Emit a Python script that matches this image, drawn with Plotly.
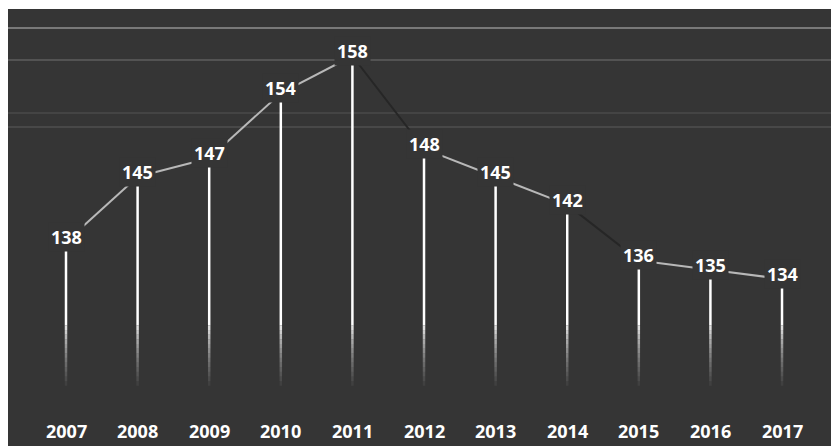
import plotly.graph_objects as go

# Yearly values, grouped into three periods
years = [2007, 2008, 2009, 2010, 2011, 2012, 2013, 2014, 2015, 2016, 2017]
values = [138, 145, 147, 154, 158, 148, 145, 142, 136, 135, 134]
periods = [1, 1, 1, 1, 1, 2, 2, 2, 3, 3, 3]
year_labels = [str(y) for y in years]

BG = "#353535"
FONT = "Open Sans"
W, H = 831, 446
M_L, M_T = 8, 9

# Drop lines run solid down to the first fade level, then fade out in steps
FADE_LEVELS = [129.0, 128.5, 128.0, 127.5, 127.0, 126.5, 126.0, 125.5,
               125.0, 124.5, 124.0, 123.5, 123.0, 122.5]
FADE_ALPHA = [0.85, 0.75, 0.65, 0.57, 0.5, 0.43, 0.37, 0.31,
              0.26, 0.21, 0.16, 0.11, 0.06]

fig = go.Figure()


def vertical_segments(tops, bottom):
    xs, ys = [], []
    for x, t in zip(years, tops):
        xs += [x, x, None]
        ys += [t, bottom, None]
    return xs, ys


xs, ys = vertical_segments(values, FADE_LEVELS[0])
fig.add_trace(go.Scatter(x=xs, y=ys, mode="lines",
                         line=dict(color="white", width=2.5),
                         hoverinfo="skip"))
for (hi, lo), a in zip(zip(FADE_LEVELS[:-1], FADE_LEVELS[1:]), FADE_ALPHA):
    xs, ys = vertical_segments([hi] * len(years), lo)
    fig.add_trace(go.Scatter(x=xs, y=ys, mode="lines",
                             line=dict(color=f"rgba(255,255,255,{a})", width=2.5),
                             hoverinfo="skip"))

# Connecting line: light within a period, dark across period breaks
inner_x, inner_y, cross_x, cross_y = [], [], [], []
for i in range(len(years) - 1):
    seg_x = [years[i], years[i + 1], None]
    seg_y = [values[i], values[i + 1], None]
    if periods[i] == periods[i + 1]:
        inner_x += seg_x
        inner_y += seg_y
    else:
        cross_x += seg_x
        cross_y += seg_y
fig.add_trace(go.Scatter(x=cross_x, y=cross_y, mode="lines",
                         line=dict(color="#262626", width=2),
                         hoverinfo="skip"))
fig.add_trace(go.Scatter(x=inner_x, y=inner_y, mode="lines",
                         line=dict(color="#b8b8b8", width=2),
                         hoverinfo="skip"))

annotations = []
# Value labels sit on the points, boxed in the background colour
for x, v in zip(years, values):
    annotations.append(dict(
        x=x, y=v, xref="x", yref="y", text=str(v), showarrow=False,
        yshift=5, bgcolor=BG, borderpad=2,
        font=dict(family=FONT, size=18, color="white", weight="bold"),
    ))
# Year labels along the bottom
plot_h = H - M_T
for x, lab in zip(years, year_labels):
    annotations.append(dict(
        x=x, y=(H - 430.5) / plot_h, xref="x", yref="paper", text=lab,
        showarrow=False, yanchor="middle",
        font=dict(family=FONT, size=18, color="white", weight="bold"),
    ))

# Faint horizontal streaks across the upper part of the panel
shapes = []
for py, a in [(28, 0.45), (60, 0.2), (113, 0.1), (127, 0.13)]:
    yp = (H - py) / plot_h
    shapes.append(dict(type="line", xref="paper", yref="paper",
                       x0=0, x1=1, y0=yp, y1=yp,
                       line=dict(color=f"rgba(255,255,255,{a})", width=1.5),
                       layer="below"))

fig.update_layout(
    width=W, height=H,
    margin=dict(l=M_L, r=0, t=M_T, b=0),
    paper_bgcolor="white",
    plot_bgcolor=BG,
    showlegend=False,
    xaxis=dict(range=[2006.19, 2017.684], visible=False, fixedrange=True),
    yaxis=dict(range=[116.02, 163.06], visible=False, fixedrange=True),
    annotations=annotations,
    shapes=shapes,
)

fig.write_html("out.html")
